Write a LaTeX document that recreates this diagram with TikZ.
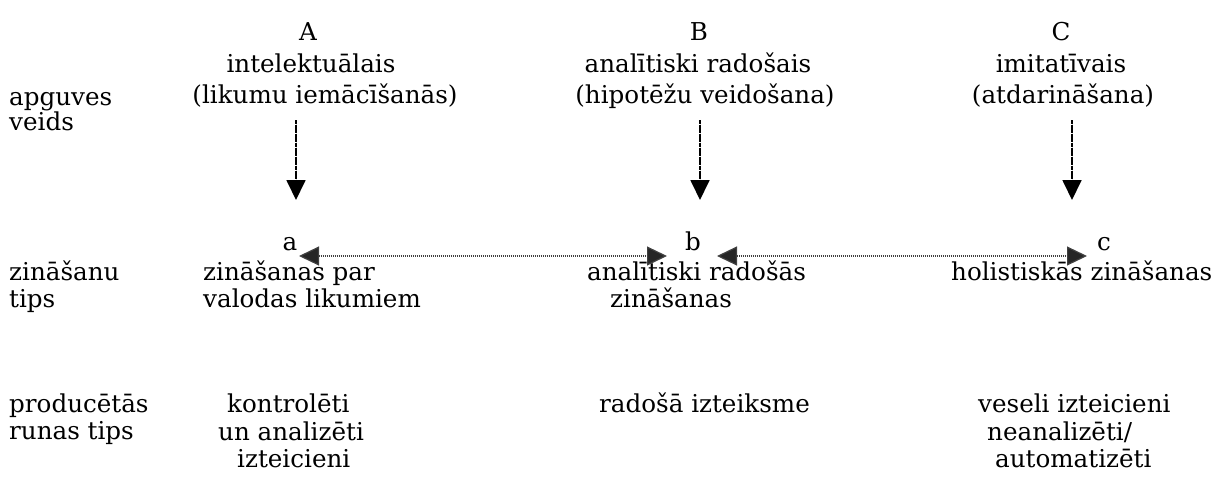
\documentclass[tikz,border=0pt]{standalone}
\usepackage{fontspec}
\setmainfont{DejaVu Serif}
\usetikzlibrary{arrows.meta}
\begin{document}
\begin{tikzpicture}[x=1pt,y=1pt,
  txt/.style={inner sep=0pt, font=\fontsize{24.6}{28}\selectfont, anchor=base},
  ltxt/.style={txt, anchor=base west},
  down/.style={line width=1.8pt, dash pattern=on 4pt off 0.6pt, draw=black,
    -{Triangle[width=19pt,length=20pt]}, fill=black!85},
  link/.style={line width=1.2pt, dash pattern=on 1.2pt off 0.8pt, draw=black!75,
    {Triangle[width=19pt,length=20pt,fill=black!85]}-{Triangle[width=19pt,length=20pt,fill=black!85]}}
]
\useasboundingbox (0,0) rectangle (1219,-477);

% row labels
\node[ltxt] (l1a) at (9,-105) {apguves};
\node[ltxt] (l1b) at (9,-130) {veids};
\node[ltxt] (l2a) at (9,-280) {zināšanu};
\node[ltxt] (l2b) at (9,-307) {tips};
\node[ltxt] (l3a) at (9,-412) {producētās};
\node[ltxt] (l3b) at (9,-439) {runas tips};

% ways of learning
\node[txt] (A)  at (308,-40)  {A};
\node[txt] (A1) at (311,-72)  {intelektuālais};
\node[txt] (A2) at (325,-103) {(likumu iemācīšanās)};
\node[txt] (B)  at (699,-40)  {B};
\node[txt] (B1) at (698,-72)  {analītiski radošais};
\node[txt] (B2) at (705,-103) {(hipotēžu veidošana)};
\node[txt] (C)  at (1061,-40) {C};
\node[txt] (C1) at (1061,-72) {imitatīvais};
\node[txt] (C2) at (1063,-103) {(atdarināšana)};

% knowledge types
\node[txt] (a) at (290,-250) {a};
\node[txt] (b) at (693,-250) {b};
\node[txt] (c) at (1104,-250) {c};
\node[ltxt] (a1) at (203,-280) {zināšanas par};
\node[ltxt] (a2) at (203,-307) {valodas likumiem};
\node[ltxt] (b1) at (587,-280) {analītiski radošās};
\node[ltxt] (b2) at (610,-307) {zināšanas};
\node[ltxt] (c1) at (951,-280) {holistiskās zināšanas};

% produced speech
\node[ltxt] (p1) at (227,-412) {kontrolēti};
\node[ltxt] (p2) at (218,-440) {un analizēti};
\node[ltxt] (p3) at (237,-467) {izteicieni};
\node[ltxt] (q1) at (599,-412) {radošā izteiksme};
\node[ltxt] (r1) at (978,-412) {veseli izteicieni};
\node[ltxt] (r2) at (987,-440) {neanalizēti/};
\node[ltxt] (r3) at (995,-467) {automatizēti};

% connectors
\coordinate (As) at (296,-120); \coordinate (Ae) at (296,-200);
\coordinate (Bs) at (700,-120); \coordinate (Be) at (700,-200);
\coordinate (Cs) at (1072,-120); \coordinate (Ce) at (1072,-200);
\draw[down] (As) -- (Ae);
\draw[down] (Bs) -- (Be);
\draw[down] (Cs) -- (Ce);

\coordinate (ab1) at (299,-256); \coordinate (ab2) at (667,-256);
\coordinate (bc1) at (717,-256); \coordinate (bc2) at (1087,-256);
\draw[link] (ab1) -- (ab2);
\draw[link] (bc1) -- (bc2);
\end{tikzpicture}
\end{document}
